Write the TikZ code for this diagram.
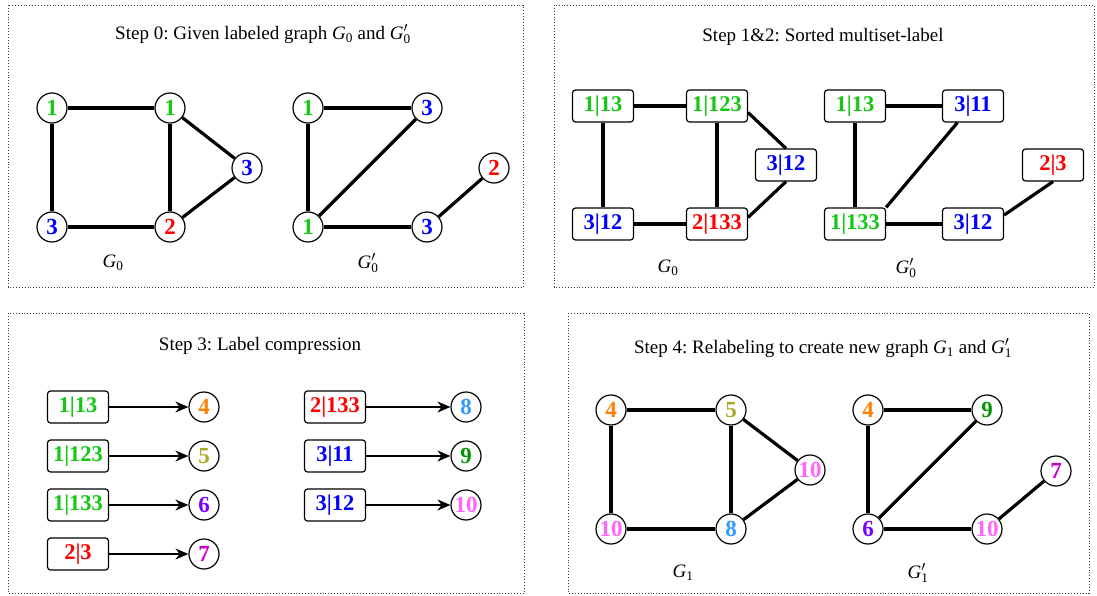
\documentclass[tikz,border=0pt]{standalone}
\usepackage{fontspec}
\usepackage{amsmath}
\setmainfont{Liberation Serif}
\usetikzlibrary{arrows.meta,calc}
\frenchspacing
\definecolor{cg}{RGB}{20,200,20}
\definecolor{cb}{RGB}{0,0,255}
\definecolor{cr}{RGB}{255,0,0}
\definecolor{cfour}{RGB}{255,128,0}
\definecolor{cfive}{RGB}{170,170,40}
\definecolor{csix}{RGB}{128,0,255}
\definecolor{cseven}{RGB}{204,0,204}
\definecolor{ceight}{RGB}{51,153,255}
\definecolor{cnine}{RGB}{0,150,0}
\definecolor{cten}{RGB}{255,102,255}
\begin{document}
\begin{tikzpicture}[x=1pt,y=-1pt,
  panel/.style={draw=black!75,dotted,line width=0.9pt},
  ttl/.style={font=\fontsize{19}{22}\selectfont,inner sep=0pt},
  glabel/.style={font=\fontsize{19}{22}\selectfont,inner sep=0pt},
  cnode/.style={circle,draw,line width=1.2pt,minimum size=30pt,inner sep=0pt,fill=white,font=\fontsize{23}{23}\selectfont\bfseries},
  bnode/.style={rectangle,rounded corners=3pt,draw,line width=1.2pt,minimum width=61pt,minimum height=32pt,inner sep=0pt,fill=white,font=\fontsize{22.5}{22.5}\selectfont\bfseries},
  edge/.style={line width=3.2pt},
  arr/.style={line width=1.5pt,-{Stealth[length=13pt,width=11pt]}}
]
\useasboundingbox (0,0) rectangle (1097,596);
\fill[white] (0,0) rectangle (1097,596);

% panels
\draw[panel] (8,5) rectangle (523,287);
\draw[panel] (554,5) rectangle (1094,287);
\draw[panel] (8,313) rectangle (524,593);
\draw[panel] (568,313) rectangle (1089,593);

% titles
\node[ttl] (t0) at (263,34) {Step 0: Given labeled graph $\textit{G}_{\textrm{0}}$ and $\textit{G}'_{\textrm{0}}$};
\node[ttl] (t1) at (823,37) {Step 1\&2: Sorted multiset-label};
\node[ttl] (t3) at (260,346) {Step 3: Label compression};
\node[ttl] (t4) at (823,348) {Step 4: Relabeling to create new graph $\textit{G}_{\textrm{1}}$ and $\textit{G}'_{\textrm{1}}$};

% ---------- panel 1 ----------
\node[cnode,text=cg] (a1) at (52,108) {1};
\node[cnode,text=cg] (b1) at (170,108) {1};
\node[cnode,text=cb] (c1) at (247,168) {3};
\node[cnode,text=cb] (d1) at (52,227) {3};
\node[cnode,text=cr] (e1) at (170,227) {2};
\draw[edge] (a1) -- (b1);
\draw[edge] (a1) -- (d1);
\draw[edge] (b1) -- (e1);
\draw[edge] (b1) -- (c1);
\draw[edge] (c1) -- (e1);
\draw[edge] (d1) -- (e1);
\node[glabel] (g0a) at (113,263) {$\textit{G}_{\textrm{0}}$};

\node[cnode,text=cg] (f1) at (308,108) {1};
\node[cnode,text=cb] (g1) at (427,108) {3};
\node[cnode,text=cr] (h1) at (494,168) {2};
\node[cnode,text=cg] (i1) at (308,227) {1};
\node[cnode,text=cb] (j1) at (427,227) {3};
\draw[edge] (f1) -- (g1);
\draw[edge] (f1) -- (i1);
\draw[edge] (i1) -- (g1);
\draw[edge] (i1) -- (j1);
\draw[edge] (j1) -- (h1);
\node[glabel] (g0b) at (368,263) {$\textit{G}'_{\textrm{0}}$};

% ---------- panel 2 ----------
\node[bnode,text=cg] (a2) at (603,106) {1|13};
\node[bnode,text=cg] (b2) at (717,106) {1|123};
\node[bnode,text=cb] (c2) at (786,165) {3|12};
\node[bnode,text=cb] (d2) at (603,224) {3|12};
\node[bnode,text=cr] (e2) at (717,224) {2|133};
\draw[edge] (a2) -- (b2);
\draw[edge] (a2) -- (d2);
\draw[edge] (b2) -- (e2);
\draw[edge] (b2.-12) -- (c2.north);
\draw[edge] (c2.south) -- (e2.12);
\draw[edge] (d2) -- (e2);
\node[glabel] (g0c) at (668,268) {$\textit{G}_{\textrm{0}}$};

\node[bnode,text=cg] (f2) at (855,106) {1|13};
\node[bnode,text=cb] (g2) at (973,106) {3|11};
\node[bnode,text=cr] (h2) at (1053,165) {2|3};
\node[bnode,text=cg] (i2) at (855,224) {1|133};
\node[bnode,text=cb] (j2) at (973,224) {3|12};
\draw[edge] (f2) -- (g2);
\draw[edge] (f2) -- (i2);
\draw[edge] (i2.north east) -- ($(g2.south west)!0.5!(g2.south)$);
\draw[edge] (i2) -- (j2);
\draw[edge] (j2.16) -- (h2.south);
\node[glabel] (g0d) at (906,268) {$\textit{G}'_{\textrm{0}}$};

% ---------- panel 3 ----------
\node[bnode,text=cg] (s1) at (78,407) {1|13};
\node[bnode,text=cg] (s2) at (78,456) {1|123};
\node[bnode,text=cg] (s3) at (78,505) {1|133};
\node[bnode,text=cr] (s4) at (78,554) {2|3};
\node[bnode,text=cr] (s5) at (335,407) {2|133};
\node[bnode,text=cb] (s6) at (335,456) {3|11};
\node[bnode,text=cb] (s7) at (335,505) {3|12};
\node[cnode,text=cfour] (r1) at (204,407) {4};
\node[cnode,text=cfive] (r2) at (204,456) {5};
\node[cnode,text=csix] (r3) at (204,505) {6};
\node[cnode,text=cseven] (r4) at (204,554) {7};
\node[cnode,text=ceight] (r5) at (466,407) {8};
\node[cnode,text=cnine] (r6) at (466,456) {9};
\node[cnode,text=cten] (r7) at (466,505) {10};
\draw[arr] (s1) -- (r1);
\draw[arr] (s2) -- (r2);
\draw[arr] (s3) -- (r3);
\draw[arr] (s4) -- (r4);
\draw[arr] (s5) -- (r5);
\draw[arr] (s6) -- (r6);
\draw[arr] (s7) -- (r7);

% ---------- panel 4 ----------
\node[cnode,text=cfour] (a4) at (611,410) {4};
\node[cnode,text=cfive] (b4) at (731,410) {5};
\node[cnode,text=cten] (c4) at (810,470) {10};
\node[cnode,text=cten] (d4) at (611,529) {10};
\node[cnode,text=ceight] (e4) at (731,529) {8};
\draw[edge] (a4) -- (b4);
\draw[edge] (a4) -- (d4);
\draw[edge] (b4) -- (e4);
\draw[edge] (b4) -- (c4);
\draw[edge] (c4) -- (e4);
\draw[edge] (d4) -- (e4);
\node[glabel] (g1a) at (683,573) {$\textit{G}_{\textrm{1}}$};

\node[cnode,text=cfour] (f4) at (868,410) {4};
\node[cnode,text=cnine] (g4) at (987,410) {9};
\node[cnode,text=cseven] (h4) at (1056,471) {7};
\node[cnode,text=csix] (i4) at (868,529) {6};
\node[cnode,text=cten] (j4) at (987,529) {10};
\draw[edge] (f4) -- (g4);
\draw[edge] (f4) -- (i4);
\draw[edge] (i4) -- (g4);
\draw[edge] (i4) -- (j4);
\draw[edge] (j4) -- (h4);
\node[glabel] (g1b) at (918,573) {$\textit{G}'_{\textrm{1}}$};
\end{tikzpicture}
\end{document}
